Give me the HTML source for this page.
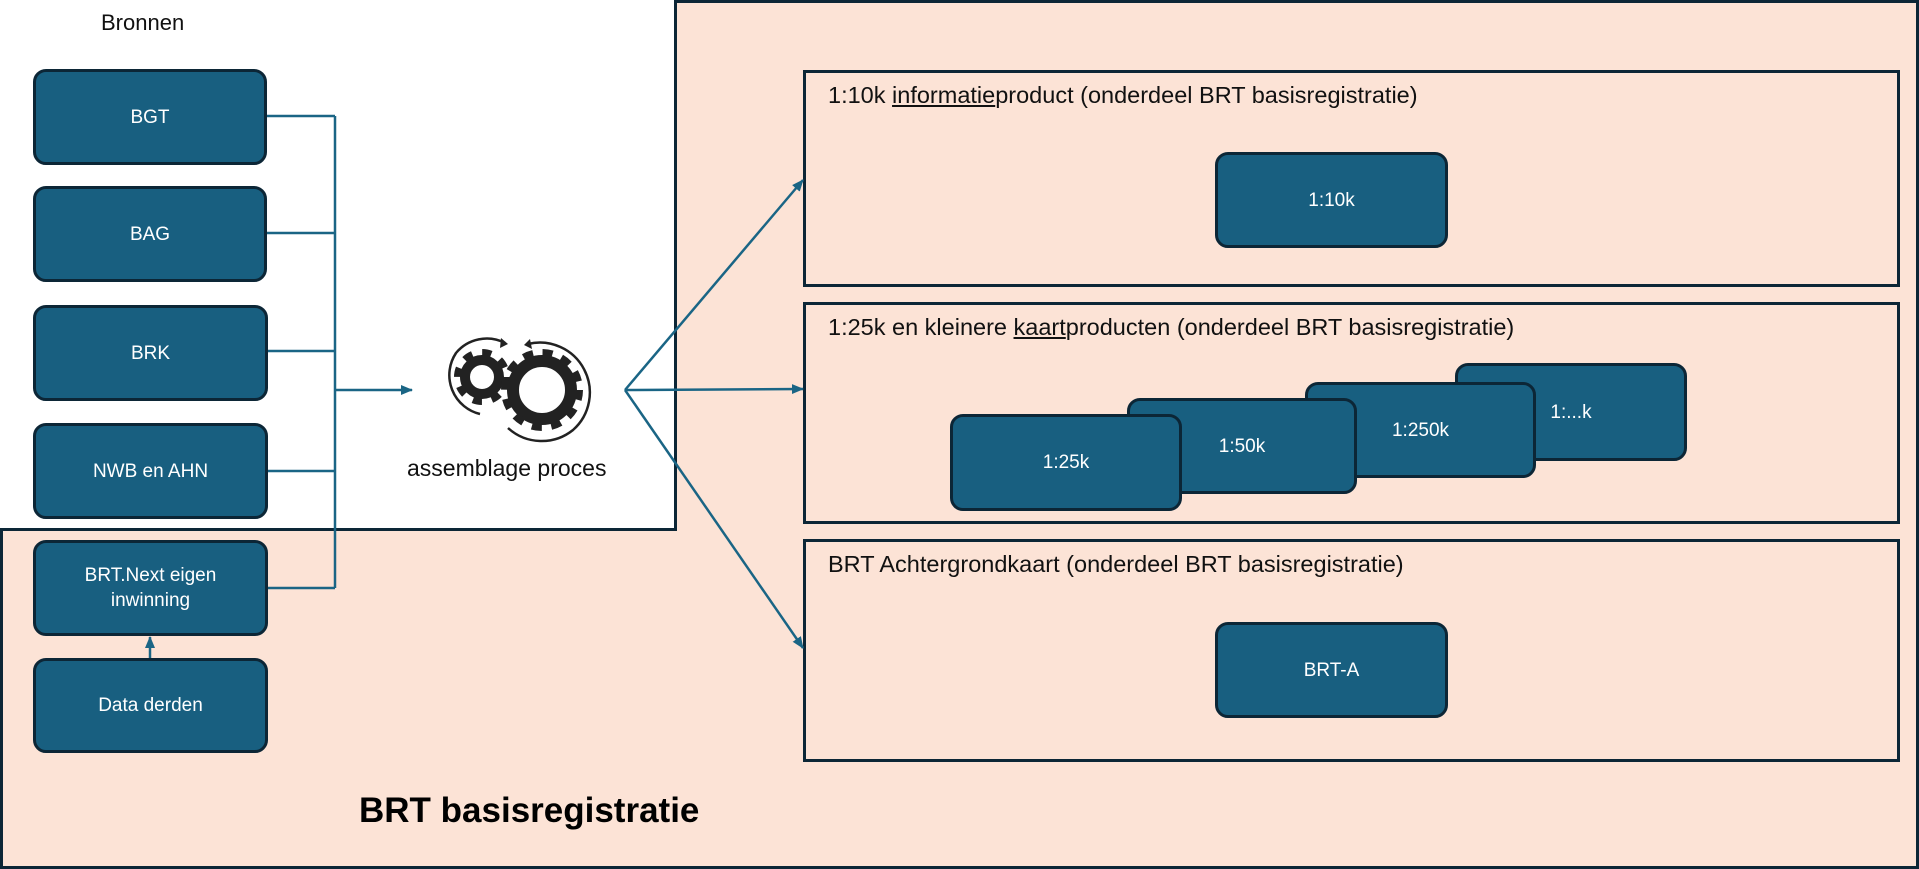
<!DOCTYPE html>
<html><head><meta charset="utf-8"><style>
html,body{margin:0;padding:0;}
body{width:1919px;height:869px;position:relative;overflow:hidden;background:#fff;font-family:"Liberation Sans",sans-serif;}
.abs{position:absolute;box-sizing:border-box;}
.box{position:absolute;box-sizing:border-box;background:#185f80;border:3px solid #0c2636;border-radius:13px;color:#fff;font-size:19px;display:flex;align-items:center;justify-content:center;text-align:center;line-height:25px;}
.panel{position:absolute;box-sizing:border-box;border:3px solid #0c2636;background:#fce3d6;}
.pt{position:absolute;left:22px;top:9px;font-size:23.5px;color:#111;white-space:nowrap;}
</style></head><body>
<div class="abs" style="left:0;top:0;width:1919px;height:869px;background:#fce3d6;border:3px solid #0c2636;"></div>
<div class="abs" style="left:0;top:0;width:677px;height:531px;background:#fff;border-right:3px solid #0c2636;border-bottom:3px solid #0c2636;"></div>
<div class="abs" style="left:101px;top:10px;font-size:22px;color:#111;">Bronnen</div>

<div class="box" style="left:33px;top:69px;width:234px;height:96px;">BGT</div>
<div class="box" style="left:33px;top:186px;width:234px;height:96px;">BAG</div>
<div class="box" style="left:33px;top:305px;width:235px;height:96px;">BRK</div>
<div class="box" style="left:33px;top:423px;width:235px;height:96px;">NWB en AHN</div>
<div class="box" style="left:33px;top:540px;width:235px;height:96px;">BRT.Next eigen<br>inwinning</div>
<div class="box" style="left:33px;top:658px;width:235px;height:95px;">Data derden</div>

<div class="abs" style="left:407px;top:455px;font-size:23px;color:#111;white-space:nowrap;">assemblage proces</div>

<div class="panel" style="left:803px;top:70px;width:1097px;height:217px;"><div class="pt">1:10k <u>informatie</u>product (onderdeel BRT basisregistratie)</div></div>
<div class="panel" style="left:803px;top:302px;width:1097px;height:222px;"><div class="pt">1:25k en kleinere <u>kaart</u>producten (onderdeel BRT basisregistratie)</div></div>
<div class="panel" style="left:803px;top:539px;width:1097px;height:223px;"><div class="pt">BRT Achtergrondkaart (onderdeel BRT basisregistratie)</div></div>

<div class="box" style="left:1215px;top:152px;width:233px;height:96px;">1:10k</div>
<div class="box" style="left:1455px;top:363px;width:232px;height:98px;">1:...k</div>
<div class="box" style="left:1305px;top:382px;width:231px;height:96px;">1:250k</div>
<div class="box" style="left:1127px;top:398px;width:230px;height:96px;">1:50k</div>
<div class="box" style="left:950px;top:414px;width:232px;height:97px;">1:25k</div>
<div class="box" style="left:1215px;top:622px;width:233px;height:96px;">BRT-A</div>

<div class="abs" style="left:359px;top:791px;font-size:35px;font-weight:bold;color:#000;white-space:nowrap;">BRT basisregistratie</div>

<svg class="abs" style="left:0;top:0;" width="1919" height="869">
<defs><marker id="a" markerWidth="12" markerHeight="12" refX="11" refY="6" orient="auto" markerUnits="userSpaceOnUse"><path d="M0,1 L12,6 L0,11 z" fill="#1a6585"/></marker></defs>
<g stroke="#1a6585" stroke-width="2.5" fill="none">
<path d="M267,116 H335 M267,233 H335 M268,351 H335 M268,471 H335 M268,588 H335 M335,116 V588"/>
<path d="M335,390 H412" marker-end="url(#a)"/>
<path d="M150,658 V637" marker-end="url(#a)"/>
<path d="M625,390 L803,180" marker-end="url(#a)"/>
<path d="M625,390 L803,389" marker-end="url(#a)"/>
<path d="M625,390 L803,648" marker-end="url(#a)"/>
</g>
<g fill="none" stroke="#222">
<circle cx="482" cy="377" r="17" stroke-width="10"/>
<circle cx="482" cy="377" r="24" stroke-width="8" stroke-dasharray="9 9.85"/>
<circle cx="542" cy="390" r="29" stroke-width="12"/>
<circle cx="542" cy="390" r="37" stroke-width="8" stroke-dasharray="10 9.4"/>
<path d="M505,343 A40,40 0 0 0 456,353 A40,40 0 0 0 480,414" stroke-width="2.5"/>
<path d="M528,344 A50,50 0 0 1 573,430 A50,50 0 0 1 508,428" stroke-width="2.5"/>
</g>
<path d="M501,338 L508,344 L500,348 z" fill="#222"/>
<path d="M530,339 L524,345 L532,349 z" fill="#222"/>
</svg>
</body></html>
